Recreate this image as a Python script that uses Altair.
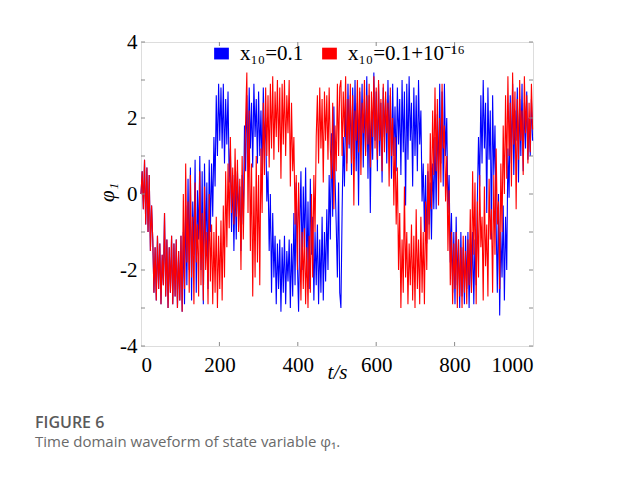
import altair as alt
import pandas as pd

# sampled every 3 s, t = 0 .. 999
T_STEP = 3
red = [
    0.0, 0.6, -0.4, 0.9, -0.8, 0.7, -1.0, 0.5, -1.5, -0.3,
    -1.2, -2.6, -1.4, -2.8, -1.1, -2.5, -1.3, -2.9, -1.6, -2.4,
    -0.5, -2.7, -1.2, -3.0, -1.4, -2.6, -1.1, -2.9, -1.3, -2.7,
    -1.2, -3.0, -1.5, -2.8, -1.1, -3.1, 0.0, -2.5, 0.8, -1.8,
    -0.2, -2.6, 0.5, -2.2, -0.6, -2.9, 0.3, -1.8, -0.8, -2.7,
    0.6, -2.4, -0.5, -2.8, 0.2, -2.0, -1.0, -2.9, 0.0, -2.3,
    -0.8, -2.9, -1.0, -2.6, -0.6, -3.0, -1.1, -2.5, -0.7, -2.8,
    -0.3, -2.2, 0.6, -1.4, 0.8, -0.9, 1.5, -0.5, 0.7, -0.8,
    1.2, -0.6, 0.9, -1.0, 0.4, -2.0, 1.0, -1.2, 0.5, 2.0,
    3.2, -0.5, 2.2, -1.5, 0.8, -2.7, 0.2, -2.2, 1.0, -1.8,
    0.5, -2.4, 1.2, -0.5, 2.4, 0.5, 2.8, 1.0, 2.6, 0.7,
    2.9, 1.2, 3.1, 0.9, 2.7, 1.5, 3.0, 1.1, 2.8, 0.4,
    2.9, 1.3, 3.0, 1.0, 2.6, 1.6, 3.0, 0.2, 2.4, 0.6,
    1.5, -0.8, 0.5, -2.0, 0.3, -1.2, -2.8, -1.0, -2.5, -0.9,
    -2.9, -1.4, -3.0, -1.1, -2.6, 0.0, -2.2, 0.5, -1.0, 1.5,
    2.6, 0.8, 2.8, 1.2, 2.5, 0.3, 2.7, 1.4, 2.6, 0.9,
    2.8, 1.2, 0.4, 2.4, -0.4, 1.8, 0.6, 2.9, 1.0, 2.8,
    3.0, 1.0, 2.7, 1.5, 3.1, 0.6, 2.5, 1.3, 2.9, 0.8,
    2.6, -0.3, 2.2, 1.4, 3.0, 1.1, 2.8, 0.5, 2.4, 1.6,
    3.0, 1.0, 2.6, 1.3, 2.9, 0.7, 2.7, 1.5, 3.1, 1.2,
    2.8, 0.9, 3.0, 1.4, 2.5, 0.6, 2.9, 1.1, 2.7, 1.6,
    2.4, 0.2, 2.8, 1.0, 2.0, -0.3, 1.5, -0.8, 0.7, -2.0,
    -0.5, -3.0, -1.2, -2.6, 0.2, -2.2, -1.0, -2.9, -1.3, -2.4,
    -0.8, -2.8, -1.1, -3.0, -0.4, -2.5, -1.2, -2.9, -0.6, -2.6,
    -1.0, -2.9, -0.2, -2.0, 0.8, -1.2, 1.6, -0.4, 2.2, 0.5,
    2.8, 0.6, 2.5, -0.3, 2.0, 0.3, 2.9, 1.2, 1.8, -0.2,
    1.0, -1.5, 0.1, -2.4, -1.0, -2.9, -1.3, -2.5, -1.0, -3.0,
    -1.2, -2.7, -1.4, -3.0, -1.1, -2.6, -1.5, -2.9, -1.2, -2.4,
    -0.4, -2.6, 0.6, -1.6, 0.3, -2.9, -0.2, -2.2, 0.5, -1.4,
    -0.6, -2.8, 0.2, -1.9, -0.8, -2.7, 0.4, -1.2, -0.4, -2.6,
    0.5, -1.6, 1.2, -0.8, -0.2, -2.5, 0.8, -1.0, 1.8, 0.0,
    2.6, 0.4, 3.1, 1.0, 2.4, 0.2, 3.2, 1.3, 2.7, -0.4,
    2.5, 0.9, 3.0, 1.4, 2.2, 0.5, 3.1, 1.6, 2.6, 0.8,
    2.4, 1.1, 2.9, 1.7,
]
blue_after = [
    -1.0, -2.9, -0.3, -2.4,
    0.4, -2.0, 0.7, -2.8, -0.2, -1.6, 0.9, -2.6, 0.1, -1.2,
    1.0, -2.0, 0.6, -2.9, 0.8, -1.4, 0.3, -2.5, 0.9, -1.0,
    0.8, -0.6, 1.5, 0.2, 2.6, 1.0, 2.9, 1.4, 2.8, 1.2,
    2.9, 0.8, 2.5, 1.3, 2.7, 0.3, 1.2, -1.0, 0.5, -1.5,
    0.4, -1.2, 0.6, -0.6, 0.2, -1.5, 0.5, -0.8, 1.8, 0.6,
    2.6, 0.9, 2.8, 1.2, 2.4, 0.7, 2.9, 1.5, 2.5, 0.8,
    2.7, 1.0, 2.2, 0.6, 2.8, 1.3, 2.0, -0.2, 0.6, -1.5,
    0.0, -2.6, -0.5, -2.2, -1.1, -2.9, -1.3, -2.5, -1.2, -3.1,
    -1.4, -2.6, -1.1, -2.9, -1.5, -2.3, -1.2, -3.0, -1.3, -2.7,
    -0.5, -2.4, 0.3, -1.8, -3.1, -1.0, 0.6, -2.0, 0.2, -1.4,
    0.7, -2.2, -0.2, -2.5, 0.4, -1.6, -0.6, -2.8, -1.0, -2.4,
    -0.8, -2.9, -1.2, -2.6, -0.6, -2.8, -1.0, -2.3, -0.4, -2.0,
    0.5, -1.2, 1.6, -0.6, 2.3, 0.4, -0.8, -2.2, 0.3, -2.6,
    -3.0, -0.5, 1.5, 0.2, 2.5, 0.8, 2.9, 1.2, 2.6, 0.5,
    2.8, 1.0, 3.0, 0.6, 2.4, -0.3, 2.7, 1.3, 2.9, 0.7,
    2.5, 1.1, 3.1, 0.4, 2.6, -0.5, 2.2, 0.9, 3.2, 1.4,
    2.7, 0.6, 2.9, 1.0, 2.4, 0.3, 2.8, 1.5, 2.5, 0.8,
    3.0, 1.2, 2.6, 0.4, 2.9, 1.0, 2.3, 0.6, 2.8, 1.3,
    2.5, 0.5, 3.0, 1.1, 2.7, -0.3, 2.9, 0.9, 3.1, 1.4,
    2.4, 0.2, 2.8, 1.0, 2.6, 0.6, 3.0, 1.3, 2.2, -0.2,
    0.8, -1.0, 0.5, -1.3, 0.6, -0.8, 0.3, -1.2, 0.8, -0.4,
    1.5, -0.4, 2.1, 0.4, 2.9, 0.8, 2.7, 0.2, 2.9, 1.0,
    2.0, -0.5, 0.5, -1.8, -0.5, -2.6, -1.0, -2.9, -0.6, -2.4,
    -1.2, -3.0, -1.0, -2.7, -1.4, -2.9, -1.1, -2.5, -1.0, -3.0,
    -1.3, -2.6, -1.0, -2.9, -1.2, -2.4, -0.2, 1.5, 0.2, 2.6,
    0.8, 3.0, 1.2, 2.4, -0.5, 2.8, 0.9, 2.2, -1.2, 2.6,
    0.5, 1.8, -0.8, -2.6, 0.0, -3.2, -1.0, -2.2, -0.3, -2.8,
    -0.6, -2.0, 1.2, -0.1, 2.6, 0.8, 2.9, 0.5, 2.2, 1.4,
    2.8, 0.3, 2.5, 1.0, 2.9, 0.6, 2.4, 1.2, 2.7, 0.9,
    2.0, 1.0, 2.5, 1.4,
]
blue = red[:36] + blue_after

series_names = ["x\u2081\u2080=0.1", "x\u2081\u2080=0.1+10\u207b\u00b9\u2076"]
series_colors = ["#0000ff", "#ff0000"]
x_ticks = [0, 200, 400, 600, 800, 1000]
y_ticks = [-4, -2, 0, 2, 4]
minor_x = [200, 400, 600, 800]
minor_y = [-4, -3, -2, -1, 0, 1, 2, 3, 4]

W, H = 392, 304
FRAME = "#8a8a8a"
SERIF = "Liberation Serif"

df = pd.concat([
    pd.DataFrame({"t": [i * T_STEP for i in range(len(blue))], "phi": blue, "s": series_names[0]}),
    pd.DataFrame({"t": [i * T_STEP for i in range(len(red))], "phi": red, "s": series_names[1]}),
])

xscale = alt.Scale(domain=[0, 1000], nice=False)
yscale = alt.Scale(domain=[-4, 4], nice=False)
color = alt.Color(
    "s:N",
    scale=alt.Scale(domain=series_names, range=series_colors),
    legend=alt.Legend(
        title=None, orient="none", legendX=70, legendY=1, direction="horizontal",
        symbolType="M-1,-0.2H1V0.2H-1Z", symbolSize=14, symbolStrokeWidth=11,
        symbolOpacity=1,
        labelFont=SERIF, labelFontSize=21, labelColor="black", labelOffset=8,
        columnPadding=1, padding=0, labelLimit=300,
    ),
)

def line_layer(name):
    return alt.Chart(df).transform_filter(alt.datum.s == name).mark_line(strokeWidth=1.1).encode(
        x=alt.X("t:Q", scale=xscale,
                axis=alt.Axis(values=x_ticks, ticks=False, domain=False, grid=False,
                              labelFont=SERIF, labelFontSize=21, labelColor="black",
                              labelPadding=8, labelExpr="'' + datum.value",
                              title="t/s", titleFont=SERIF,
                              titleFontSize=21, titleFontStyle="italic", titleFontWeight="normal",
                              titleBaseline="alphabetic", titleY=32, titleColor="black")),
        y=alt.Y("phi:Q", scale=yscale,
                axis=alt.Axis(values=y_ticks, ticks=False, domain=False, grid=False,
                              labelFont=SERIF, labelFontSize=21, labelColor="black",
                              labelPadding=4, labelExpr="'' + datum.value",
                              title="\u03c6\u2081", titleFont=SERIF, titleFontSize=21,
                              titleFontStyle="italic", titleFontWeight="normal",
                              titleAngle=270, titleX=-24, titleY=150, titleColor="black")),
        color=color,
    )

blue_line = line_layer(series_names[0])
red_line = line_layer(series_names[1])

ytick_df = pd.DataFrame({"v": minor_y})
xtick_df = pd.DataFrame({"v": minor_x})
tick_style = dict(color=FRAME, strokeWidth=1)
left_ticks = alt.Chart(ytick_df).mark_rule(**tick_style).encode(
    y=alt.Y("v:Q", scale=yscale), x=alt.value(0), x2=alt.value(4))
right_ticks = alt.Chart(ytick_df).mark_rule(**tick_style).encode(
    y=alt.Y("v:Q", scale=yscale), x=alt.value(W - 4), x2=alt.value(W))
bottom_ticks = alt.Chart(xtick_df).mark_rule(**tick_style).encode(
    x=alt.X("v:Q", scale=xscale), y=alt.value(H - 4), y2=alt.value(H))
top_ticks = alt.Chart(xtick_df).mark_rule(**tick_style).encode(
    x=alt.X("v:Q", scale=xscale), y=alt.value(0), y2=alt.value(4))

cap1 = alt.Chart(pd.DataFrame({"s": ["FIGURE 6"]})).mark_text(
    align="left", baseline="alphabetic", font="Open Sans", fontSize=16, fontWeight=600, color="#5a5a5a"
).encode(text="s:N", x=alt.value(-106), y=alt.value(386))
cap2 = alt.Chart(pd.DataFrame({"s": ["Time domain waveform of state variable \u03c6\u2081."]})).mark_text(
    align="left", baseline="alphabetic", font="Open Sans", fontSize=15, color="#6a6a6a"
).encode(text="s:N", x=alt.value(-106), y=alt.value(405))

chart = alt.layer(
    blue_line, red_line, left_ticks, right_ticks, bottom_ticks, top_ticks, cap1, cap2
).properties(
    width=W, height=H,
    autosize=alt.AutoSizeParams(type="none"),
    padding={"left": 133, "top": 34, "right": 100, "bottom": 127},
).configure_view(stroke=FRAME, strokeWidth=1).configure(background="white")

chart.save("out.html", embed_options={"renderer": "svg", "actions": False})
